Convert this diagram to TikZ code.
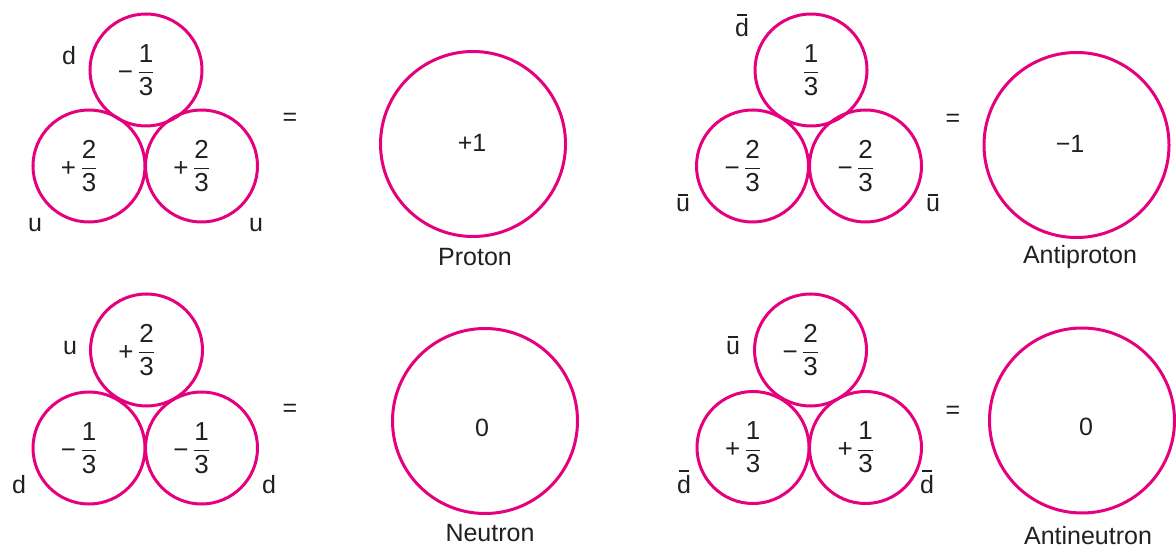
\documentclass[tikz,border=0pt]{standalone}
\usepackage{fontspec}
\setmainfont{Liberation Sans}
\definecolor{mag}{HTML}{E5007D}
\definecolor{ink}{HTML}{231F20}
\newcommand\chg[3]{$\displaystyle\llap{\raisebox{-0.7pt}{#1}\kern1.6pt}\frac{\mbox{#2}}{\mbox{#3}}$}
\newcommand\ovl[1]{\leavevmode\setbox0\hbox{#1}\rlap{\hbox to\wd0{\hss\raisebox{\dimexpr\ht0+1.6pt\relax}{\rule{0.75\wd0}{0.75pt}}\hss}}\box0}
\begin{document}
\begin{tikzpicture}[x=0.5pt,y=-0.5pt,
  quark/.style={circle,draw=mag,line width=1.5pt,minimum size=56pt,inner sep=0pt,text=ink,font=\fontsize{13}{15}\selectfont},
  hadron/.style={circle,draw=mag,line width=1.5pt,minimum size=92.5pt,inner sep=0pt},
  lbl/.style={text=ink,font=\fontsize{12.5}{14}\selectfont,inner sep=0pt,anchor=base},
  val/.style={text=ink,font=\fontsize{12.5}{14}\selectfont,inner sep=0pt},
  eq/.style={text=ink,font=\fontsize{12.5}{14}\selectfont,inner sep=0pt}]
\useasboundingbox (0,0) rectangle (1176,550);
% ---------- Proton ----------
\node[quark] (pt) at (146,70) {\chg{−}{1}{3}};
\node[quark] (pl) at (89,166) {\chg{+}{2}{3}};
\node[quark] (pr) at (201.5,166) {\chg{+}{2}{3}};
\node[lbl] (ptq) at (69,65) {d};
\node[lbl] (plq) at (35,232) {u};
\node[lbl] (prq) at (256,232) {u};
\node[eq] (peq) at (290,119) {=};
\node[hadron] (proton) at (473,144) {};
\node[val] (pv) at (472,143) {+1};
\node[lbl] (pn) at (475,266) {Proton};
% ---------- Antiproton ----------
\node[quark] (at) at (811,70) {$\displaystyle\frac{\mbox{1}}{\mbox{3}}$};
\node[quark] (al) at (752.5,166) {\chg{−}{2}{3}};
\node[quark] (ar) at (865.5,166) {\chg{−}{2}{3}};
\node[lbl] (atq) at (742,37) {\ovl{d}};
\node[lbl] (alq) at (683,212) {\ovl{u}};
\node[lbl] (arq) at (933,212) {\ovl{u}};
\node[eq] (aeq) at (953,120) {=};
\node[hadron] (antiproton) at (1076.5,145) {};
\node[val] (av) at (1070,144) {−1};
\node[lbl] (an) at (1080,264) {Antiproton};
% ---------- Neutron ----------
\node[quark] (nt) at (146.5,350) {\chg{+}{2}{3}};
\node[quark] (nl) at (89,448) {\chg{−}{1}{3}};
\node[quark] (nr) at (201.5,448) {\chg{−}{1}{3}};
\node[lbl] (ntq) at (70,354) {u};
\node[lbl] (nlq) at (19,493) {d};
\node[lbl] (nrq) at (269,493) {d};
\node[eq] (neq) at (290,410) {=};
\node[hadron] (neutron) at (485,421) {};
\node[val] (nv) at (482,428) {0};
\node[lbl] (nn) at (490,541) {Neutron};
% ---------- Antineutron ----------
\node[quark] (bt) at (810.5,350) {\chg{−}{2}{3}};
\node[quark] (bl) at (753,447.5) {\chg{+}{1}{3}};
\node[quark] (br) at (865.5,447.5) {\chg{+}{1}{3}};
\node[lbl] (btq) at (733,354) {\ovl{u}};
\node[lbl] (blq) at (684,493) {\ovl{d}};
\node[lbl] (brq) at (927,493) {\ovl{d}};
\node[eq] (beq) at (953,412) {=};
\node[hadron] (antineutron) at (1082,420.5) {};
\node[val] (bv) at (1086,427) {0};
\node[lbl] (bn) at (1088,544) {Antineutron};
\end{tikzpicture}
\end{document}
